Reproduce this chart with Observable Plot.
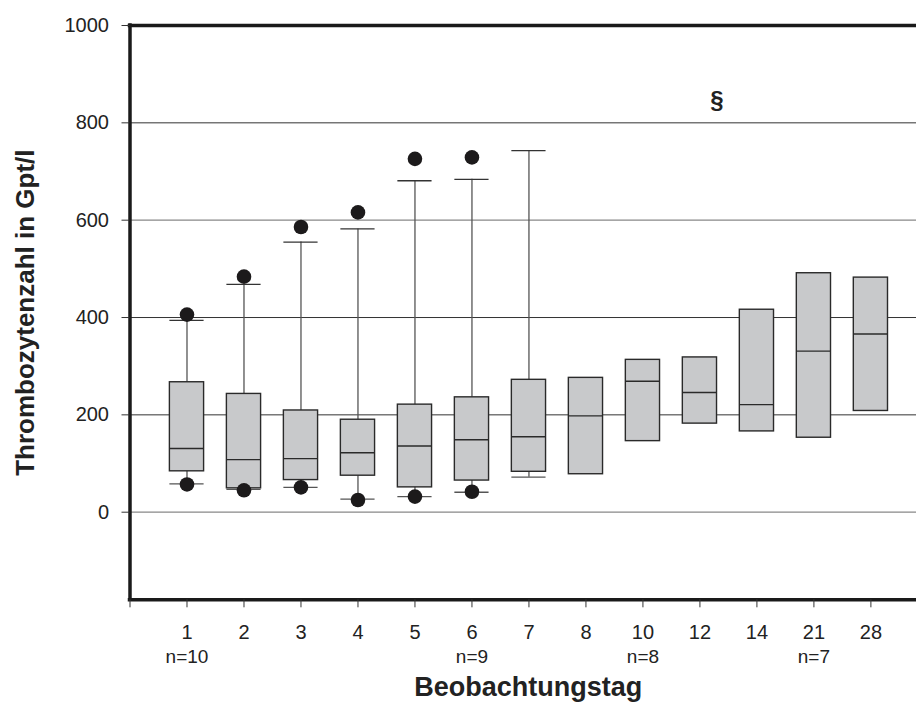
<!DOCTYPE html>
<html>
<head>
<meta charset="utf-8">
<script src="https://cdn.jsdelivr.net/npm/d3@7"></script>
<script src="https://cdn.jsdelivr.net/npm/@observablehq/plot@0.6"></script>
<style>
  html, body { margin: 0; padding: 0; background: #fff; }
  #chart svg { display: block; }
</style>
</head>
<body>
<div id="chart"></div>
<script>
// Beobachtungstag categories
const days = ["1","2","3","4","5","6","7","8","10","12","14","21","28"];
// box statistics (Gpt/l)
const q1     = [84, 49, 66, 75, 51, 65, 83, 78, 146, 182, 166, 153, 208];
const median = [131, 108, 110, 122, 136, 149, 155, 198, 269, 246, 221, 331, 366];
const q3     = [267, 243, 209, 190, 221, 236, 272, 276, 313, 318, 416, 491, 482];
const whiskerLow  = [58, 47, 51, 27, 32, 41, 72, null, null, null, null, null, null];
const whiskerHigh = [394, 468, 555, 582, 681, 684, 743, null, null, null, null, null, null];
const outlierHigh = [406, 484, 586, 616, 726, 729, null, null, null, null, null, null, null];
const outlierLow  = [57, 45, 51, 25, 32, 42, null, null, null, null, null, null, null];
// sample size labels and the category they sit under
const nLabels = ["n=10", "n=9", "n=8", "n=7"];
const nDays   = ["1", "6", "10", "21"];
// significance mark
const markText = "§";
const markPos = 10.3;   // category position (between 12 and 14)
const markValue = 846;
const yTicks = [0, 200, 400, 600, 800, 1000];
const gridDark = [200, 400, 800];
const gridLight = [0, 600];

const data = days.map((d, i) => ({
  pos: i + 1, day: d, q1: q1[i], med: median[i], q3: q3[i],
  lo: whiskerLow[i], hi: whiskerHigh[i]
}));
const whiskered = data.filter(d => d.hi != null);
const outliers = [];
days.forEach((d, i) => {
  if (outlierHigh[i] != null) outliers.push({pos: i + 1, v: outlierHigh[i]});
  if (outlierLow[i] != null) outliers.push({pos: i + 1, v: outlierLow[i]});
});
const nData = nLabels.map((t, i) => ({text: t, pos: days.indexOf(nDays[i]) + 1}));
const hw = 0.3;
const xMax = 13.8;

const chart = Plot.plot({
  width: 916,
  height: 711,
  marginLeft: 129.5,
  marginRight: 0,
  marginTop: 25,
  marginBottom: 111.7,
  x: {type: "linear", domain: [0, xMax], label: null},
  y: {domain: [-180, 1000], label: null},
  style: {fontFamily: "'Liberation Sans', Arial, sans-serif", background: "#fff", color: "#222"},
  marks: [
    Plot.ruleY(gridDark, {x1: 0, x2: xMax, stroke: "#333", strokeWidth: 1}),
    Plot.ruleY(gridLight, {x1: 0, x2: xMax, stroke: "#888", strokeWidth: 1.3}),
    // whiskers
    Plot.ruleX(whiskered, {x: "pos", y1: "q3", y2: "hi", stroke: "#555", strokeWidth: 1.3}),
    Plot.ruleX(whiskered, {x: "pos", y1: "lo", y2: "q1", stroke: "#555", strokeWidth: 1.3}),
    Plot.ruleY(whiskered, {y: "hi", x1: d => d.pos - hw, x2: d => d.pos + hw, stroke: "#333", strokeWidth: 1.3}),
    Plot.ruleY(whiskered, {y: "lo", x1: d => d.pos - hw, x2: d => d.pos + hw, stroke: "#555", strokeWidth: 1.3}),
    // boxes
    Plot.rect(data, {x1: d => d.pos - hw, x2: d => d.pos + hw, y1: "q1", y2: "q3", fill: "#c8c9cb", stroke: "#2a2a2a", strokeWidth: 1.4}),
    Plot.ruleY(data, {y: "med", x1: d => d.pos - hw, x2: d => d.pos + hw, stroke: "#2a2a2a", strokeWidth: 1.4}),
    // outliers
    Plot.dot(outliers, {x: "pos", y: "v", r: 7.3, fill: "#1c1a1b", stroke: null}),
    // frame
    Plot.ruleX([0], {y1: -180, y2: 1000, stroke: "#1a1a1a", strokeWidth: 3.5, strokeLinecap: "square"}),
    Plot.ruleY([1000], {x1: 0, x2: xMax, stroke: "#1a1a1a", strokeWidth: 3.5, strokeLinecap: "square"}),
    Plot.ruleY([-180], {x1: 0, x2: xMax, stroke: "#1a1a1a", strokeWidth: 3.5, strokeLinecap: "square"}),
    // axes
    Plot.axisY({ticks: yTicks, tickFormat: d => String(d), tickSize: 8, tickPadding: 13, fontSize: 20, stroke: "#333", fill: "#222", label: null}),
    Plot.axisX({ticks: d3.range(0, days.length + 1), tickFormat: i => i === 0 ? "" : days[i - 1],
      tickSize: 8, tickPadding: 17, fontSize: 20, stroke: "#333", fill: "#222", label: null}),
    // n labels
    Plot.text(nData, {x: "pos", frameAnchor: "bottom", dy: 63, text: "text", fontSize: 19, fill: "#222"}),
    // significance mark
    Plot.text([markText], {x: () => markPos, y: () => markValue, text: d => d, fontSize: 24, fontWeight: "bold", fill: "#222"}),
    // axis titles
    Plot.text(["Beobachtungstag"], {frameAnchor: "bottom", textAnchor: "middle", dx: 5, dy: 96, text: d => d, fontSize: 27, fontWeight: "bold", fill: "#222"}),
    Plot.text(["Thrombozytenzahl in Gpt/l"], {frameAnchor: "left", textAnchor: "middle", dx: -104.5, rotate: -90, text: d => d, fontSize: 26, fontWeight: "bold", fill: "#222"})
  ]
});
document.getElementById("chart").appendChild(chart);
</script>
</body>
</html>
